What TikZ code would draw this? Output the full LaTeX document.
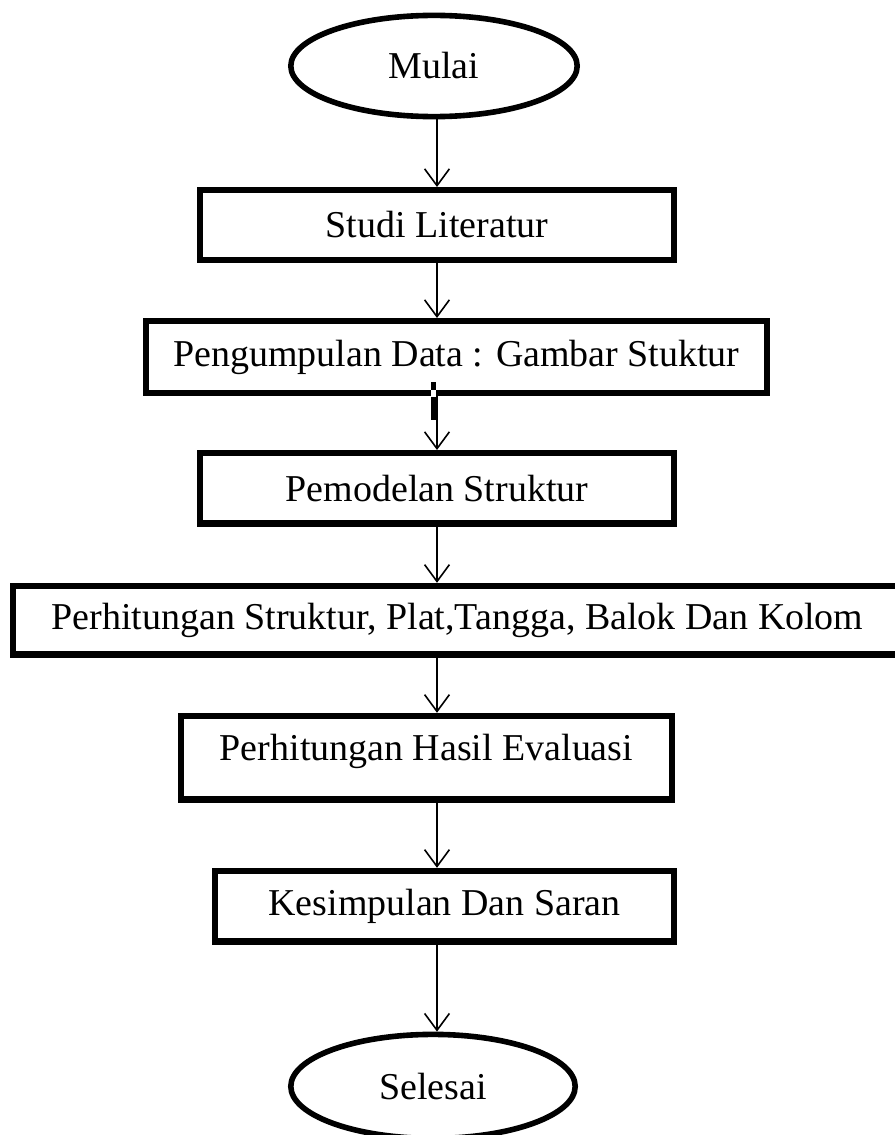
\documentclass[tikz,border=0pt]{standalone}
\usepackage{fontspec}
\setmainfont{Liberation Serif}
\usepackage{tikz}
\usetikzlibrary{positioning,shapes.geometric,arrows.meta,calc}

\begin{document}
\begin{tikzpicture}[
    node distance=1.4cm,
    every node/.style={font=\fontsize{27}{32}\selectfont},
    terminal/.style={draw, ellipse, line width=0.14cm, outer sep=0.07cm,
                     minimum width=7.16cm, minimum height=2.53cm},
    box/.style={draw, rectangle, line width=0.16cm, outer sep=0.08cm,
                minimum height=1.76cm, align=center},
    arr/.style={-{Straight Barb[length=0.42cm, width=0.62cm]}, line width=0.04cm}
]
    \useasboundingbox (-10.85,1.65) rectangle (11.525,-26.725);

    \node[terminal] (mulai) {Mulai};
    \node[box, below=1.69cm of mulai, xshift=0.075cm, minimum width=11.84cm, minimum height=1.74cm]
        (studi) {Studi Literatur};
    \node[box, below=1.375cm of studi, xshift=0.4875cm, minimum width=15.515cm, minimum height=1.79cm]
        (pengumpulan) {Pengumpulan Data : Gambar Stuktur};
    \node[box, below=1.35cm of pengumpulan, xshift=-0.4875cm, minimum width=11.84cm]
        (pemodelan) {Pemodelan Struktur};
    \node[box, below=1.4cm of pemodelan, xshift=0.5125cm, minimum width=22.215cm, minimum height=1.715cm]
        (perhitungan) {Perhitungan Struktur, Plat,Tangga, Balok Dan Kolom};
    \node[box, below=1.375cm of perhitungan, xshift=-0.775cm, minimum width=12.265cm, minimum height=2.09cm,
          text depth=0.5cm] (evaluasi) {Perhitungan Hasil Evaluasi};
    \node[box, below=1.625cm of evaluasi, xshift=0.45cm, minimum width=11.465cm]
        (kesimpulan) {Kesimpulan Dan Saran};
    \node[terminal, below=2.175cm of kesimpulan, xshift=-0.2875cm, minimum width=7.11cm, minimum height=2.6cm]
        (selesai) {Selesai};

    % short thick stub under the data box
    \draw[line width=0.125cm] ($(pengumpulan.south -| studi)+(-0.0875,0.35)$) -- ($(pengumpulan.south -| studi)+(-0.0875,-0.6)$);
    \fill[white] ($(pengumpulan.south -| studi)+(-0.16,0.15)$) rectangle ($(pengumpulan.south -| studi)+(-0.02,-0.025)$);

    \draw[arr] (mulai.south -| studi) -- (studi.north);
    \draw[arr] (studi.south) -- (pengumpulan.north -| studi);
    \draw[arr] (pengumpulan.south -| studi) -- (pemodelan.north -| studi);
    \draw[arr] (pemodelan.south -| studi) -- (perhitungan.north -| studi);
    \draw[arr] (perhitungan.south -| studi) -- (evaluasi.north -| studi);
    \draw[arr] (evaluasi.south -| studi) -- (kesimpulan.north -| studi);
    \draw[arr] (kesimpulan.south -| studi) -- (selesai.north -| studi);
\end{tikzpicture}
\end{document}
